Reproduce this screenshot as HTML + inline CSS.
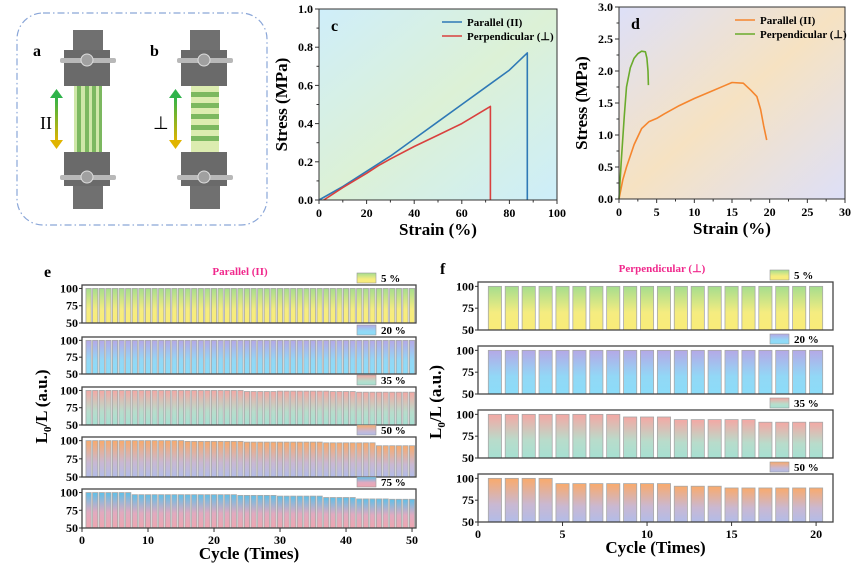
<!DOCTYPE html>
<html><head><meta charset="utf-8">
<style>
html,body{margin:0;padding:0;background:#fff;}
svg{display:block;font-family:"Liberation Serif",serif;font-weight:bold;}
</style></head>
<body>
<svg id="fig" width="863" height="566" viewBox="0 0 863 566" xmlns="http://www.w3.org/2000/svg">
<defs>
<linearGradient id="bgc" x1="0" y1="0" x2="1" y2="1"><stop offset="0" stop-color="#cfeefa"/><stop offset="0.5" stop-color="#dcf1d6"/><stop offset="1" stop-color="#cdeefa"/></linearGradient>
<linearGradient id="bgd" x1="0" y1="0" x2="1" y2="1"><stop offset="0" stop-color="#dde0f8"/><stop offset="0.5" stop-color="#f6e2c2"/><stop offset="1" stop-color="#dde0f8"/></linearGradient>
<linearGradient id="g5" x1="0" y1="0" x2="0" y2="1"><stop offset="0" stop-color="#a5dd8e"/><stop offset="0.6" stop-color="#f5ec80"/><stop offset="1" stop-color="#f9ec78"/></linearGradient>
<linearGradient id="g20" x1="0" y1="0" x2="0" y2="1"><stop offset="0" stop-color="#b5a8e6"/><stop offset="0.6" stop-color="#92d8f6"/><stop offset="1" stop-color="#8cdcf8"/></linearGradient>
<linearGradient id="g35" x1="0" y1="0" x2="0" y2="1"><stop offset="0" stop-color="#f4a8a4"/><stop offset="0.6" stop-color="#b8dccb"/><stop offset="1" stop-color="#a6e0d2"/></linearGradient>
<linearGradient id="g50" x1="0" y1="0" x2="0" y2="1"><stop offset="0" stop-color="#f9aa6c"/><stop offset="0.6" stop-color="#c9b8d2"/><stop offset="1" stop-color="#b2bce8"/></linearGradient>
<linearGradient id="g75" x1="0" y1="0" x2="0" y2="1"><stop offset="0" stop-color="#5fc0e8"/><stop offset="0.55" stop-color="#e0aac0"/><stop offset="1" stop-color="#eea6b0"/></linearGradient>
<linearGradient id="arr" x1="0" y1="0" x2="0" y2="1"><stop offset="0" stop-color="#2fb34a"/><stop offset="1" stop-color="#e0b400"/></linearGradient>
</defs>

<g>
<rect x="17" y="13" width="250" height="212" rx="26" fill="none" stroke="#8aa6d8" stroke-width="1.2" stroke-dasharray="7,3,1.5,3"/>
<text x="33" y="56" font-size="16">a</text>
<text x="150" y="56" font-size="16">b</text>
<g id="clampA">
<rect x="74" y="86" width="28" height="66" fill="#cfe7a8"/>
<rect x="77" y="86" width="4" height="66" fill="#7cb860"/><rect x="85" y="86" width="4" height="66" fill="#7cb860"/><rect x="92" y="86" width="4" height="66" fill="#7cb860"/><rect x="99" y="86" width="3" height="66" fill="#7cb860"/>
<rect x="73" y="30" width="30" height="22" fill="#707070"/>
<rect x="64" y="50" width="46" height="36" fill="#6a6a6a"/>
<rect x="60" y="58" width="56" height="5" rx="2" fill="#b8b8b8"/>
<circle cx="87" cy="60" r="6" fill="#a0a0a0" stroke="#ddd"/>
<rect x="64" y="152" width="46" height="34" fill="#6a6a6a"/>
<rect x="60" y="175" width="56" height="5" rx="2" fill="#b8b8b8"/>
<circle cx="87" cy="177" r="6" fill="#a0a0a0" stroke="#ddd"/>
<rect x="73" y="186" width="30" height="23" fill="#707070"/>
</g>
<g>
<rect x="191" y="86" width="28" height="66" fill="#dcecb0"/>
<rect x="191" y="92" width="28" height="5" fill="#7cb860"/><rect x="191" y="103" width="28" height="5" fill="#7cb860"/><rect x="191" y="114" width="28" height="5" fill="#7cb860"/><rect x="191" y="125" width="28" height="5" fill="#7cb860"/><rect x="191" y="136" width="28" height="5" fill="#7cb860"/>
<rect x="190" y="30" width="30" height="22" fill="#707070"/>
<rect x="181" y="50" width="46" height="36" fill="#6a6a6a"/>
<rect x="177" y="58" width="56" height="5" rx="2" fill="#b8b8b8"/>
<circle cx="204" cy="60" r="6" fill="#a0a0a0" stroke="#ddd"/>
<rect x="181" y="152" width="46" height="34" fill="#6a6a6a"/>
<rect x="177" y="175" width="56" height="5" rx="2" fill="#b8b8b8"/>
<circle cx="204" cy="177" r="6" fill="#a0a0a0" stroke="#ddd"/>
<rect x="190" y="186" width="30" height="23" fill="#707070"/>
</g>
<g><rect x="55" y="97" width="3" height="44" fill="url(#arr)"/><polygon points="50,98 63,98 56.5,89" fill="#2fb34a"/><polygon points="50,140 63,140 56.5,149" fill="#e0b400"/></g>
<g><rect x="174" y="97" width="3" height="44" fill="url(#arr)"/><polygon points="169,98 182,98 175.5,89" fill="#2fb34a"/><polygon points="169,140 182,140 175.5,149" fill="#e0b400"/></g>
<text x="40" y="129" font-size="18" font-weight="normal">II</text>
<text x="153" y="129" font-size="18" font-weight="normal">⊥</text>
</g>

<g id="chartC"></g>
<g id="chartD"></g>
<g id="chartE"></g>
<g id="chartF"></g>
</svg>
<script>
const cParStrain = [0, 10, 20, 30, 40, 50, 60, 70, 80, 87.5, 87.5];
const cParStress = [0, 0.07, 0.15, 0.23, 0.32, 0.41, 0.5, 0.59, 0.68, 0.77, 0];
const cPerStrain = [2, 10, 20, 25, 30, 40, 50, 60, 72, 72];
const cPerStress = [0, 0.065, 0.14, 0.18, 0.215, 0.28, 0.34, 0.4, 0.49, 0];
const cXTicks = [0, 20, 40, 60, 80, 100];
const cYTicks = ["0.0", "0.2", "0.4", "0.6", "0.8", "1.0"];
const dParStrain = [0, 0.5, 1, 2, 3, 4, 5, 6, 8, 10, 12, 14, 15, 16.5, 17.5, 18.3, 18.8, 19.2, 19.6];
const dParStress = [0, 0.3, 0.5, 0.85, 1.1, 1.21, 1.26, 1.33, 1.46, 1.57, 1.67, 1.77, 1.82, 1.81, 1.7, 1.6, 1.4, 1.15, 0.92];
const dPerStrain = [0, 0.3, 0.7, 1, 1.5, 2, 2.5, 3, 3.5, 3.7, 3.85, 3.9];
const dPerStress = [0, 0.6, 1.3, 1.75, 2.05, 2.2, 2.27, 2.31, 2.3, 2.2, 2.0, 1.78];
const dXTicks = [0, 5, 10, 15, 20, 25, 30];
const dYTicks = ["0.0", "0.5", "1.0", "1.5", "2.0", "2.5", "3.0"];
const eCycles = Array.from({length: 50}, (_, i) => i + 1);
const e5 = [100,100,100,100,100,100,100,100,100,100,100,100,100,100,100,100,100,100,100,100,100,100,100,100,100,100,100,100,100,100,100,100,100,100,100,100,100,100,100,100,100,100,100,100,100,100,100,100,100,100];
const e20 = [100,100,100,100,100,100,100,100,100,100,100,100,100,100,100,100,100,100,100,100,100,100,100,100,100,100,100,100,100,100,100,100,100,100,100,100,100,100,100,100,100,100,100,100,100,100,100,100,100,100];
const e35 = [100,100,100,100,100,100,100,100,100,100,100,100,100,100,100,100,100,100,100,100,100,100,100,100,98.5,98.5,98.5,98.5,98.5,99,99,99,99,99,99,99,99,98.5,98.5,98.5,98.5,97.5,97.5,97.5,97.5,97.5,97.5,97.5,97.5,97.5];
const e50 = [100,100,100,100,100,100,100,100,100,100,100,100,100,100,100,99,99,99,99,99,99,99,99,99,98,98,98,98,98,98,98,98,98,98,98,98,97,97,97,97,97,97,97,97,93,93,93,93,93,93];
const e75 = [100,100,100,100,100,100,100,97,97,97,97,97,97,97,97,97,97,97,97,97,97,97,97,96,96,96,96,96,96,95,95,95,95,95,95,95,93,93,93,93,93,91,91,91,91,91,90.5,90.5,90.5,90.5];
const eLabels = ["5 %", "20 %", "35 %", "50 %", "75 %"];
const eXTicks = [0, 10, 20, 30, 40, 50];
const fCycles = Array.from({length: 20}, (_, i) => i + 1);
const f5 = [100,100,100,100,100,100,100,100,100,100,100,100,100,100,100,100,100,100,100,100];
const f20 = [100,100,100,100,100,100,100,100,100,100,100,100,100,100,100,100,100,100,100,100];
const f35 = [100,100,100,100,100,100,100,100,97,97,97,94,94,94,94,94,91,91,91,91];
const f50 = [100,100,100,100,94,94,94,94,94,94,94,91,91,91,89,89,89,89,89,89];
const fLabels = ["5 %", "20 %", "35 %", "50 %"];
const fXTicks = [0, 5, 10, 15, 20];
const yTicksBar = [50, 75, 100];

const NS = "http://www.w3.org/2000/svg";
function mk(parent, tag, attrs, text) {
  const el = document.createElementNS(NS, tag);
  for (const k in attrs) el.setAttribute(k, attrs[k]);
  if (text !== undefined) el.textContent = text;
  parent.appendChild(el);
  return el;
}

function lineChart(g, box, xmax, ymax, xTicks, yTicks, minorX, minorY, bgId, series, xTitle, letter, legendX) {
  const sx = v => box.x0 + (box.x1 - box.x0) * v / xmax;
  const sy = v => box.y1 - (box.y1 - box.y0) * v / ymax;
  const bg = mk(g, "rect", {x: box.x0, y: box.y0, width: box.x1 - box.x0, height: box.y1 - box.y0, fill: "url(#" + bgId + ")"});
  
  
  series.forEach(s => {
    const pts = s.xs.map((x, i) => sx(x).toFixed(1) + "," + sy(s.ys[i]).toFixed(1)).join(" ");
    const pl = mk(g, "polyline", {points: pts, fill: "none", stroke: s.color, "stroke-width": 1.6, "stroke-linejoin": "round"});
    
    
  });
  const fr = mk(g, "rect", {x: box.x0, y: box.y0, width: box.x1 - box.x0, height: box.y1 - box.y0, fill: "none", stroke: "#333", "stroke-width": 1});
  
  
  xTicks.forEach(t => {
    mk(g, "line", {x1: sx(t), x2: sx(t), y1: box.y1, y2: box.y1 + 4, stroke: "#333"});
    const tl = mk(g, "text", {x: sx(t), y: box.y1 + 17, "font-size": 12, "text-anchor": "middle"}, t);
    
    
  });
  for (let v = minorX; v < xmax; v += minorX * 2) mk(g, "line", {x1: sx(v), x2: sx(v), y1: box.y1, y2: box.y1 + 2.5, stroke: "#333"});
  yTicks.forEach(t => {
    const v = parseFloat(t);
    mk(g, "line", {x1: box.x0 - 4, x2: box.x0, y1: sy(v), y2: sy(v), stroke: "#333"});
    const tl = mk(g, "text", {x: box.x0 - 6, y: sy(v) + 4, "font-size": 12, "text-anchor": "end"}, t);
    
    
  });
  for (let v = minorY; v < ymax; v += minorY * 2) mk(g, "line", {x1: box.x0 - 2.5, x2: box.x0, y1: sy(v), y2: sy(v), stroke: "#333"});
  const xt = mk(g, "text", {x: (box.x0 + box.x1) / 2, y: box.y1 + 35, "font-size": 17, "text-anchor": "middle"}, xTitle);
  
  
  const cy = (box.y0 + box.y1) / 2;
  const yt = mk(g, "text", {x: box.x0 - 32, y: cy, "font-size": 17, "text-anchor": "middle", transform: "rotate(-90 " + (box.x0 - 32) + " " + cy + ")"}, "Stress (MPa)");
  
  
  const lt = mk(g, "text", {x: box.x0 + 12, y: box.y0 + 22, "font-size": 16}, letter);
  
  
  series.forEach((s, i) => {
    const ly = box.y0 + 13 + i * 14;
    const ll = mk(g, "line", {x1: legendX, x2: legendX + 20, y1: ly, y2: ly, stroke: s.color, "stroke-width": 1.6});
    
    
    const lx = mk(g, "text", {x: legendX + 25, y: ly + 4, "font-size": 11}, s.label);
    
    
  });
}

lineChart(document.getElementById("chartC"), {x0: 319, x1: 557, y0: 9, y1: 200}, 100, 1.0, cXTicks, cYTicks, 10, 0.1, "bgc",
  [{xs: cParStrain, ys: cParStress, color: "#2f79b6", name: "parallel-line", label: "Parallel (II)"},
   {xs: cPerStrain, ys: cPerStress, color: "#d9403e", name: "perpendicular-line", label: "Perpendicular (⊥)"}],
  "Strain (%)", "c", 442);
lineChart(document.getElementById("chartD"), {x0: 619, x1: 845, y0: 7, y1: 199}, 30, 3.0, dXTicks, dYTicks, 2.5, 0.25, "bgd",
  [{xs: dParStrain, ys: dParStress, color: "#f5862e", name: "parallel-line", label: "Parallel (II)"},
   {xs: dPerStrain, ys: dPerStress, color: "#6aab2c", name: "perpendicular-line", label: "Perpendicular (⊥)"}],
  "Strain (%)", "d", 735);

function barPanel(g, cfg) {
  const sx = v => cfg.x0 + (cfg.x1 - cfg.x0) * v / cfg.xmax;
  cfg.series.forEach((vals, k) => {
    const [top, bot] = cfg.rows[k];
    const ymax = 105;
    const sy = v => bot - (bot - top) * (v - 50) / (ymax - 50);
    const sub = mk(g, "g", {});
    
    
    vals.forEach((v, i) => {
      const c = cfg.cycles[i];
      const r = mk(sub, "rect", {x: sx(c - cfg.bw / 2), y: sy(v), width: sx(cfg.bw) - sx(0), height: sy(50) - sy(v), fill: "url(#" + cfg.grads[k] + ")", stroke: "#a8a8a8", "stroke-width": 0.8});
      
      
    });
    const fr = mk(sub, "rect", {x: cfg.x0, y: top, width: cfg.x1 - cfg.x0, height: bot - top, fill: "none", stroke: "#444", "stroke-width": 1.3});
    
    
    yTicksBar.forEach(t => {
      mk(sub, "line", {x1: cfg.x0 - 3, x2: cfg.x0, y1: sy(t), y2: sy(t), stroke: "#333"});
      const tl = mk(sub, "text", {x: cfg.x0 - 4, y: sy(t) + 4, "font-size": 12, "text-anchor": "end"}, t);
      
      
    });
    const lb = mk(sub, "rect", {x: cfg.legX, y: top - 12, width: 19, height: 10, fill: "url(#" + cfg.grads[k] + ")", stroke: "#999", "stroke-width": 0.6});
    
    
    const lt = mk(sub, "text", {x: cfg.legX + 24, y: top - 3, "font-size": 11}, cfg.labels[k]);
    
    
  });
  const bot = cfg.rows[cfg.rows.length - 1][1];
  cfg.xTicks.forEach(t => {
    mk(g, "line", {x1: sx(t), x2: sx(t), y1: bot, y2: bot + 4, stroke: "#333"});
    const tl = mk(g, "text", {x: sx(t), y: bot + 16, "font-size": 12, "text-anchor": "middle"}, t);
    
    
  });
  const xt = mk(g, "text", {x: (cfg.x0 + cfg.x1) / 2, y: bot + 31, "font-size": 17, "text-anchor": "middle"}, "Cycle (Times)");
  
  
  const cy = (cfg.rows[0][0] + bot) / 2;
  const yt = mk(g, "text", {x: cfg.yTitleX, y: cy, "font-size": 17, "text-anchor": "middle", transform: "rotate(-90 " + cfg.yTitleX + " " + cy + ")"});
  
  
  mk(yt, "tspan", {}, "L");
  mk(yt, "tspan", {"font-size": 11, dy: 4}, "0");
  mk(yt, "tspan", {dy: -4}, "/L (a.u.)");
  const tt = mk(g, "text", {x: cfg.titleX, y: cfg.rows[0][0] - 10, "font-size": 11, "text-anchor": "middle", fill: "#f0288c"}, cfg.title);
  
  
  const lt = mk(g, "text", {x: cfg.letterX, y: cfg.rows[0][0] - 8, "font-size": 16}, cfg.letter);
  
  
}

barPanel(document.getElementById("chartE"), {
  x0: 82, x1: 416, xmax: 50.6, bw: 0.8, cycles: eCycles,
  series: [e5, e20, e35, e50, e75], labels: eLabels, grads: ["g5", "g20", "g35", "g50", "g75"],
  rows: [[285, 323], [337, 374], [387, 425], [437, 477], [489, 528]],
  xTicks: eXTicks, legX: 357, yTitleX: 47, title: "Parallel (II)", titleX: 240, letter: "e", letterX: 44
});
barPanel(document.getElementById("chartF"), {
  x0: 478, x1: 833, xmax: 21, bw: 0.78, cycles: fCycles,
  series: [f5, f20, f35, f50], labels: fLabels, grads: ["g5", "g20", "g35", "g50"],
  rows: [[282, 330], [346, 394], [410, 458], [474, 522]],
  xTicks: fXTicks, legX: 770, yTitleX: 441, title: "Perpendicular (⊥)", titleX: 662, letter: "f", letterX: 440
});
</script>
</body></html>
